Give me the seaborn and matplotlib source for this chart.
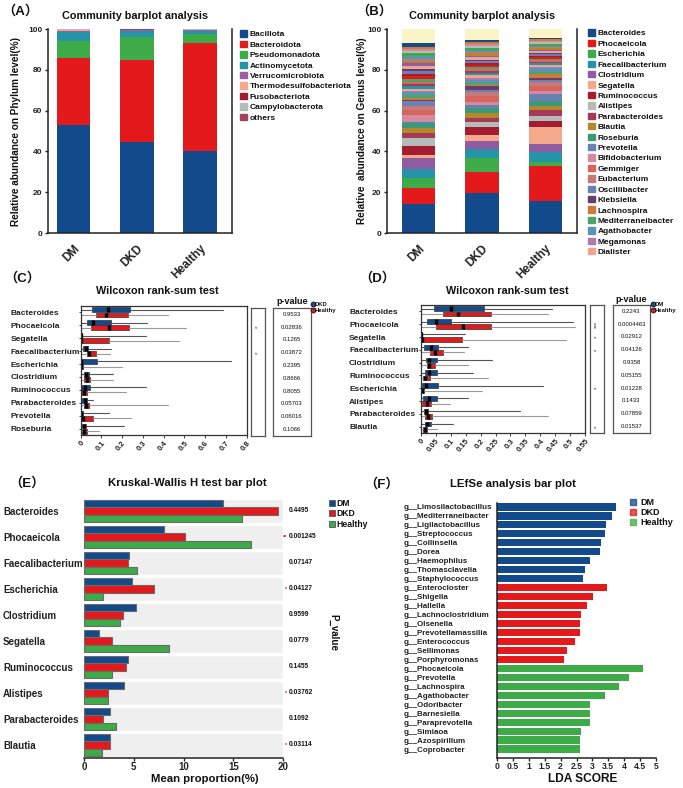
import numpy as np
import pandas as pd
import seaborn as sns
import matplotlib.pyplot as plt
from matplotlib.lines import Line2D
from matplotlib.patches import Patch

groups = ['DM', 'DKD', 'Healthy']

# (A) phylum level relative abundance (%)
phyla = ['Bacillota', 'Bacteroidota', 'Pseudomonadota', 'Actinomycetota', 'Verrucomicrobiota',
         'Thermodesulfobacteriota', 'Fusobacteriota', 'Campylobacterota', 'others']
phylum_dm = [53.0, 33.0, 8.0, 4.5, 0.5, 0.6, 0.1, 0.1, 0.2]
phylum_dkd = [44.5, 40.5, 11.0, 3.0, 0.3, 0.2, 0.1, 0.1, 0.3]
phylum_healthy = [40.0, 53.0, 4.5, 1.7, 0.2, 0.1, 0.2, 0.1, 0.2]
phylum_colors = ['#124a8c', '#e3191b', '#3dab47', '#2593a8', '#9a5ea6',
                 '#f4a98a', '#a51c30', '#b3bcb8', '#a3425e']

# (B) genus level relative abundance (%)
genera = ['Bacteroides', 'Phocaeicola', 'Escherichia', 'Faecalibacterium', 'Clostridium',
          'Segatella', 'Ruminococcus', 'Alistipes', 'Parabacteroides', 'Blautia', 'Roseburia',
          'Prevotella', 'Bifidobacterium', 'Gemmiger', 'Eubacterium', 'Oscillibacter',
          'Klebsiella', 'Lachnospira', 'Mediterraneibacter', 'Agathobacter', 'Megamonas', 'Dialister']
genus_dm = [14.0, 8.1, 4.8, 4.5, 5.2, 1.5, 4.4, 4.0, 2.6, 2.6, 2.4,
            0.3, 3.3, 2.5, 2.0, 2.5, 0.5, 1.0, 1.5, 1.2, 0.5, 1.0]
genus_dkd = [19.5, 10.2, 7.0, 4.4, 3.9, 2.8, 4.2, 2.4, 1.9, 2.6, 2.5,
             1.5, 1.5, 3.0, 1.5, 1.0, 2.0, 0.8, 1.0, 1.5, 1.0, 1.2]
genus_healthy = [15.9, 16.8, 1.9, 5.3, 3.6, 8.5, 2.8, 2.4, 3.2, 1.7, 2.5,
                 3.5, 1.5, 2.5, 2.0, 1.0, 0.8, 2.0, 0.8, 2.0, 0.6, 1.0]
genus_colors = ['#124a8c', '#e3191b', '#3dab47', '#2593a8', '#8f5ba3', '#f4a98a', '#a51c30',
                '#b3bcb8', '#a33a56', '#b6862a', '#3a9a78', '#6a80b4', '#d48aa0', '#d6665c',
                '#c47a7a', '#6d80b0', '#6a3d6e', '#d07a36', '#4aa56a', '#5b93b5', '#b07aab', '#eea58f']
# unlabelled low-abundance genera stacked above the named ones
minor_dm = [1.5, 1.2, 1.0, 1.6, 1.3, 0.9, 1.4, 1.1, 1.5, 1.2, 1.0, 1.3, 1.4, 1.2, 1.1, 1.3, 1.0, 1.7]
minor_dkd = [1.0, 0.8, 1.2, 0.9, 1.1, 0.7, 1.0, 0.9, 1.2, 0.8, 1.0, 0.9, 0.8, 1.1, 0.9, 1.0, 0.8, 1.0]
minor_healthy = [0.8, 0.7, 0.9, 0.6, 0.8, 0.7, 0.8, 0.6, 0.9, 0.7, 0.8, 0.7, 0.6, 0.8, 0.7, 0.9, 0.6, 0.7]
others_color = '#f9f5c6'

# (C) Wilcoxon DKD vs Healthy: (q1, median, q3, upper whisker)
wc_genera = ['Bacteroides', 'Phocaeicola', 'Segatella', 'Faecalibacterium', 'Escherichia',
             'Clostridium', 'Ruminococcus', 'Parabacteroides', 'Prevotella', 'Roseburia']
wc_dkd = [(0.053, 0.132, 0.239, 0.688), (0.029, 0.060, 0.148, 0.32), (0.0, 0.0, 0.004, 0.313),
          (0.013, 0.027, 0.036, 0.148), (0.001, 0.003, 0.077, 0.726), (0.017, 0.027, 0.041, 0.156),
          (0.003, 0.020, 0.044, 0.313), (0.003, 0.020, 0.032, 0.057), (0.0, 0.003, 0.010, 0.137),
          (0.005, 0.015, 0.025, 0.208)]
wc_healthy = [(0.073, 0.121, 0.228, 0.42), (0.049, 0.137, 0.231, 0.507), (0.0, 0.002, 0.136, 0.476),
              (0.032, 0.041, 0.072, 0.14), (0.001, 0.003, 0.012, 0.2), (0.017, 0.032, 0.045, 0.156),
              (0.003, 0.015, 0.030, 0.22), (0.014, 0.027, 0.038, 0.42), (0.005, 0.010, 0.060, 0.244),
              (0.008, 0.018, 0.028, 0.089)]
wc_pvals = ['0.9533', '0.02836', '0.1265', '0.03872', '0.2395', '0.8666', '0.8055', '0.05703', '0.06016', '0.1066']
wc_stars = ['', '*', '', '*', '', '', '', '', '', '']

# (D) Wilcoxon DM vs Healthy
wd_genera = ['Bacteroides', 'Phocaeicola', 'Segatella', 'Faecalibacterium', 'Clostridium',
             'Ruminococcus', 'Escherichia', 'Alistipes', 'Parabacteroides', 'Blautia']
wd_dm = [(0.045, 0.100, 0.211, 0.44), (0.021, 0.049, 0.100, 0.511), (0.0, 0.0, 0.004, 0.148),
         (0.011, 0.034, 0.058, 0.159), (0.016, 0.028, 0.053, 0.237), (0.013, 0.028, 0.053, 0.173),
         (0.004, 0.017, 0.058, 0.41), (0.006, 0.028, 0.053, 0.156), (0.010, 0.017, 0.025, 0.332),
         (0.013, 0.021, 0.032, 0.108)]
wd_healthy = [(0.073, 0.125, 0.234, 0.427), (0.050, 0.140, 0.235, 0.518), (0.0, 0.002, 0.139, 0.485),
              (0.030, 0.047, 0.074, 0.144), (0.019, 0.027, 0.047, 0.159), (0.008, 0.013, 0.030, 0.226),
              (0.0, 0.004, 0.010, 0.203), (0.002, 0.021, 0.032, 0.097), (0.013, 0.022, 0.036, 0.427),
              (0.008, 0.013, 0.021, 0.053)]
wd_pvals = ['0.2243', '0.0004463', '0.02912', '0.04126', '0.9358', '0.05155', '0.01228', '0.1433', '0.07859', '0.01537']
wd_stars = ['', '***', '*', '*', '', '', '*', '', '', '*']

# (E) Kruskal-Wallis mean proportion (%)
kw_genera = ['Bacteroides', 'Phocaeicola', 'Faecalibacterium', 'Escherichia', 'Clostridium',
             'Segatella', 'Ruminococcus', 'Alistipes', 'Parabacteroides', 'Blautia']
kw_dm = [14.0, 8.0, 4.5, 4.8, 5.2, 1.5, 4.4, 4.0, 2.6, 2.6]
kw_dkd = [19.5, 10.2, 4.4, 7.0, 3.9, 2.8, 4.2, 2.4, 1.9, 2.6]
kw_healthy = [15.9, 16.8, 5.3, 1.9, 3.6, 8.5, 2.8, 2.4, 3.2, 1.8]
kw_pvals = ['0.4495', '0.001245', '0.07147', '0.04127', '0.9599', '0.0779', '0.1455', '0.03762', '0.1092', '0.03114']
kw_stars = ['', '**', '', '*', '', '', '', '*', '', '*']

# (F) LEfSe LDA scores
lefse_genera = ['Limosilactobacillus', 'Mediterraneibacter', 'Ligilactobacillus', 'Streptococcus',
                'Collinsella', 'Dorea', 'Haemophilus', 'Thomasclavelia', 'Staphylococcus',
                'Enterocloster', 'Shigella', 'Hallella', 'Lachnoclostridium', 'Olsenella',
                'Prevotellamassilia', 'Enterococcus', 'Sellimonas', 'Porphyromonas',
                'Phocaeicola', 'Prevotella', 'Lachnospira', 'Agathobacter', 'Odoribacter',
                'Barnesiella', 'Paraprevotella', 'Simiaoa', 'Azospirillum', 'Coprobacter']
lefse_scores = [3.73, 3.62, 3.42, 3.39, 3.26, 3.24, 2.92, 2.78, 2.69,
                3.46, 3.01, 2.84, 2.63, 2.61, 2.60, 2.45, 2.20, 2.12,
                4.60, 4.14, 3.84, 3.40, 2.93, 2.91, 2.91, 2.64, 2.62, 2.60]
lefse_groups = ['DM'] * 9 + ['DKD'] * 9 + ['Healthy'] * 10

blue, red, green = '#124a8c', '#e3191b', '#3dab47'
palette = dict(zip(groups, [blue, red, green]))

sns.set_theme(style='white')
plt.rcParams['font.family'] = ['Liberation Sans', 'Noto Sans CJK SC', 'DejaVu Sans']
plt.rcParams['font.weight'] = 'bold'
plt.rcParams['axes.labelweight'] = 'bold'
plt.rcParams['axes.edgecolor'] = '#222222'
plt.rcParams['text.color'] = '#111111'
plt.rcParams['xtick.color'] = '#222222'
plt.rcParams['ytick.color'] = '#222222'

W, H = 683, 788
fig = plt.figure(figsize=(W / 100, H / 100), dpi=100)


def add_ax(x0, y0, x1, y1):
    return fig.add_axes([x0 / W, 1 - y1 / H, (x1 - x0) / W, (y1 - y0) / H])


def ftext(x, y, s, **kw):
    fig.text(x / W, 1 - y / H, s, **kw)


def panel_label(x, y, letter):
    ftext(x, y, '（' + letter + '）', fontsize=9.5, ha='left', va='center')


def stacked(ax, table, colors, xlim):
    bottom = np.zeros(3)
    for vals, col in zip(table, colors):
        ax.bar(groups, vals, bottom=bottom, width=0.53, color=col, linewidth=0)
        bottom += np.asarray(vals)
    ax.set_xlim(*xlim)
    ax.set_ylim(0, 100)
    ax.set_yticks([0, 20, 40, 60, 80, 100])
    ax.tick_params(axis='y', left=True, length=2.5, width=1, labelsize=6, pad=1.5)
    ax.tick_params(axis='x', bottom=False, labelsize=8.5, pad=1)
    for t in ax.get_xticklabels():
        t.set_rotation(45)
        t.set_ha('right')
        t.set_rotation_mode('anchor')
    ax.spines['top'].set_visible(False)
    for s in ['left', 'bottom', 'right']:
        ax.spines[s].set_linewidth(1.1)


# ---------------- (A)
axA = add_ax(48, 29, 232, 233)
stacked(axA, np.array([phylum_dm, phylum_dkd, phylum_healthy]).T, phylum_colors, (-0.4, 2.5))
panel_label(2, 11, 'A')
ftext(135, 16, 'Community barplot analysis', fontsize=7.8, ha='center', va='center')
ftext(16, 131, 'Relative abundance on Phylum level(%)', fontsize=7.2, rotation=90, ha='center', va='center')
fig.legend([Patch(color=c) for c in phylum_colors], phyla, loc='upper left',
           bbox_to_anchor=(237 / W, 1 - 27 / H), frameon=False, fontsize=6,
           handlelength=0.8, handleheight=0.8, handletextpad=0.3, labelspacing=0.28, borderaxespad=0)

# ---------------- (B)
axB = add_ax(387, 29, 577, 233)
genus_table = np.vstack([np.array([genus_dm, genus_dkd, genus_healthy]).T,
                         np.array([minor_dm, minor_dkd, minor_healthy]).T])
minor_colors = [genus_colors[(i * 5 + 3) % len(genus_colors)] for i in range(len(minor_dm))]
others = 100 - genus_table.sum(axis=0)
stacked(axB, np.vstack([genus_table, others]), genus_colors + minor_colors + [others_color], (-0.5, 2.5))
panel_label(356, 11, 'B')
ftext(482, 16, 'Community barplot analysis', fontsize=7.8, ha='center', va='center')
ftext(362, 131, 'Relative  abundance on Genus level(%)', fontsize=7.2, rotation=90, ha='center', va='center')
fig.legend([Patch(color=c) for c in genus_colors], genera, loc='upper left',
           bbox_to_anchor=(585 / W, 1 - 26 / H), frameon=False, fontsize=6,
           handlelength=0.8, handleheight=0.8, handletextpad=0.3, labelspacing=0.28, borderaxespad=0)


# ---------------- (C) / (D)
def box_stats(rows):
    return [dict(q1=q1, med=m, q3=q3, whislo=0.0, whishi=hi, fliers=[]) for q1, m, q3, hi in rows]


def wilcoxon(box, star_box, p_box, names, rows_a, rows_b, lab_a, col_a, xmax, xticks, xlabels,
             pvals, stars, label_pad, title_x, legend_x):
    x0, y0, x1, y1 = box
    ax = add_ax(x0, y0, x1, y1)
    pos = np.arange(len(names))
    for rows, off, col, wcol in [(rows_a, -0.2, col_a, '#555555'), (rows_b, 0.2, red, '#9a9a9a')]:
        ax.bxp(box_stats(rows), positions=pos + off, widths=0.38, orientation='horizontal',
               patch_artist=True, showcaps=False, manage_ticks=False,
               boxprops=dict(facecolor=col, edgecolor='#333333', linewidth=0.5),
               medianprops=dict(color='black', linewidth=2.4),
               whiskerprops=dict(color=wcol, linewidth=0.8))
    ax.set_ylim(len(names) - 0.5, -0.5)
    ax.set_xlim(0, xmax)
    ax.set_yticks(pos)
    ax.set_yticklabels(names, fontsize=6)
    for t in ax.get_yticklabels():
        t.set_ha('left')
    ax.tick_params(axis='y', left=True, length=1.5, width=0.6, pad=label_pad)
    ax.set_xticks(xticks)
    ax.set_xticklabels(xlabels, fontsize=5.5)
    ax.tick_params(axis='x', bottom=True, length=2, width=0.6, pad=1)
    for t in ax.get_xticklabels():
        t.set_rotation(50)
        t.set_ha('right')
        t.set_rotation_mode('anchor')
    for s in ax.spines.values():
        s.set_linewidth(0.9)
        s.set_color('#333333')

    for bx in (star_box, p_box):
        a = add_ax(bx[0], bx[1], bx[2], bx[3])
        a.set_xlim(0, 1)
        a.set_ylim(len(names) - 0.5, -0.5)
        a.set_xticks([])
        a.set_yticks([])
        for s in a.spines.values():
            s.set_linewidth(0.9)
            s.set_color('#555555')
        if bx is star_box:
            for i, st in enumerate(stars):
                if st:
                    a.text(0.5, i, st, rotation=90, fontsize=4.5, color='#666666', ha='center', va='center')
        else:
            for i, p in enumerate(pvals):
                a.text(0.5, i, p, fontsize=4.3, fontweight='normal', ha='center', va='center')
    ftext((p_box[0] + p_box[2]) / 2, p_box[1] - 6, 'p-value', fontsize=6.5, ha='center', va='center')
    ftext(title_x, 291, 'Wilcoxon rank-sum test', fontsize=7.8, ha='center', va='center')
    handles = [Line2D([], [], marker='o', linestyle='', markersize=3.5, markerfacecolor=c,
                      markeredgecolor='#111111', markeredgewidth=0.6) for c in (col_a, red)]
    fig.legend(handles, [lab_a, 'Healthy'], loc='upper left', bbox_to_anchor=(legend_x / W, 1 - 302 / H),
               frameon=False, fontsize=4.3, handlelength=0.6, handletextpad=0.0,
               labelspacing=0.1, borderaxespad=0, borderpad=0)


wilcoxon((80.7, 306, 246.5, 435), (251, 308, 265, 436), (273, 308, 311, 436), wc_genera,
         wc_dkd, wc_healthy, 'DKD', blue, 0.8, np.arange(0, 0.81, 0.1),
         ['0', '0.1', '0.2', '0.3', '0.4', '0.5', '0.6', '0.7', '0.8'],
         wc_pvals, wc_stars, 48.7, 157, 311)
panel_label(4, 278, 'C')

wilcoxon((421, 305, 585, 433), (590, 305, 604, 433), (613, 305, 650, 433), wd_genera,
         wd_dm, wd_healthy, 'DM', blue, 0.55, np.arange(0, 0.551, 0.05),
         ['0', '0.05', '0.1', '0.15', '0.2', '0.25', '0.3', '0.35', '0.4', '0.45', '0.5', '0.55'],
         wd_pvals, wd_stars, 50.3, 507, 651)
panel_label(359, 278, 'D')

# ---------------- (E)
axE = add_ax(84, 498, 283, 758)
kw_df = pd.DataFrame({'genus': kw_genera * 3,
                      'group': ['DM'] * 10 + ['DKD'] * 10 + ['Healthy'] * 10,
                      'value': kw_dm + kw_dkd + kw_healthy})
axE.barh(np.arange(len(kw_genera)), [20] * len(kw_genera), height=0.94, color='#efefef', zorder=0)
sns.barplot(data=kw_df, x='value', y='genus', hue='group', hue_order=groups, palette=palette,
            saturation=1, width=0.86, edgecolor='#6b6b6b', linewidth=0.8, errorbar=None,
            legend=False, orient='h', ax=axE, zorder=2)
axE.set_ylim(len(kw_genera) - 0.5, -0.5)
axE.set_xlim(0, 20)
axE.set_xticks([0, 5, 10, 15, 20])
axE.set_xlabel('')
axE.set_ylabel('')
axE.set_yticks(np.arange(len(kw_genera)))
axE.set_yticklabels(kw_genera, fontsize=7)
for t in axE.get_yticklabels():
    t.set_ha('left')
axE.tick_params(axis='y', left=False, length=0, pad=58.3)
axE.tick_params(axis='x', bottom=True, length=2, width=1, labelsize=7, pad=0.8)
for s in ['left', 'top', 'right']:
    axE.spines[s].set_visible(False)
axE.spines['bottom'].set_linewidth(1.1)
for i, (p, st) in enumerate(zip(kw_pvals, kw_stars)):
    axE.text(20.6, i, p, fontsize=4.8, ha='left', va='center', clip_on=False)
    if st:
        axE.text(20.4, i, st, fontsize=4, color=red, ha='right', va='center', clip_on=False)
panel_label(9, 483, 'E')
ftext(187, 483, 'Kruskal-Wallis H test bar plot', fontsize=8.2, ha='center', va='center')
ftext(205, 779, 'Mean proportion(%)', fontsize=8.2, ha='center', va='center')
ftext(333, 632, 'P_value', fontsize=7, rotation=-90, ha='center', va='center')
fig.legend([Patch(facecolor=palette[g], edgecolor='#555555', linewidth=0.6) for g in groups], groups,
           loc='upper left', bbox_to_anchor=(329 / W, 1 - 499 / H), frameon=False, fontsize=6.2,
           handlelength=0.7, handleheight=0.7, handletextpad=0.2, labelspacing=0.15,
           borderaxespad=0, borderpad=0)

# ---------------- (F)
axF = add_ax(497, 502.5, 656, 758)
lefse_df = pd.DataFrame({'genus': ['g__' + g for g in lefse_genera], 'score': lefse_scores,
                         'group': lefse_groups})
sns.barplot(data=lefse_df, x='score', y='genus', hue='group', hue_order=groups, palette=palette,
            saturation=1, dodge=False, width=0.8, linewidth=0, legend=False, orient='h', ax=axF)
axF.set_ylim(len(lefse_genera), -0.5)
axF.set_xlim(0, 5)
axF.set_xticks(np.arange(0, 5.01, 0.5))
axF.set_xticklabels(['0', '0.5', '1', '1.5', '2', '2.5', '3', '3.5', '4', '4.5', '5'])
axF.set_xlabel('')
axF.set_ylabel('')
axF.set_yticks(np.arange(len(lefse_genera)))
axF.set_yticklabels(['g__' + g for g in lefse_genera], fontsize=5.8)
for t in axF.get_yticklabels():
    t.set_ha('left')
axF.tick_params(axis='y', left=False, length=0, pad=67.5)
axF.tick_params(axis='x', bottom=True, length=2, width=1, labelsize=6.2, pad=0.8)
for s in ['top', 'right']:
    axF.spines[s].set_visible(False)
for s in ['left', 'bottom']:
    axF.spines[s].set_linewidth(1.1)
panel_label(364, 484, 'F')
ftext(513, 484, 'LEfSe analysis bar plot', fontsize=8.2, ha='center', va='center')
ftext(583, 779, 'LDA SCORE', fontsize=8.6, ha='center', va='center')
fig.legend([Patch(color=palette[g], alpha=0.75) for g in groups], groups,
           loc='upper left', bbox_to_anchor=(630 / W, 1 - 498 / H), frameon=False, fontsize=6.5,
           handlelength=0.7, handleheight=0.7, handletextpad=0.4, labelspacing=0.12,
           borderaxespad=0, borderpad=0)

fig.savefig('out.png', dpi=100)
